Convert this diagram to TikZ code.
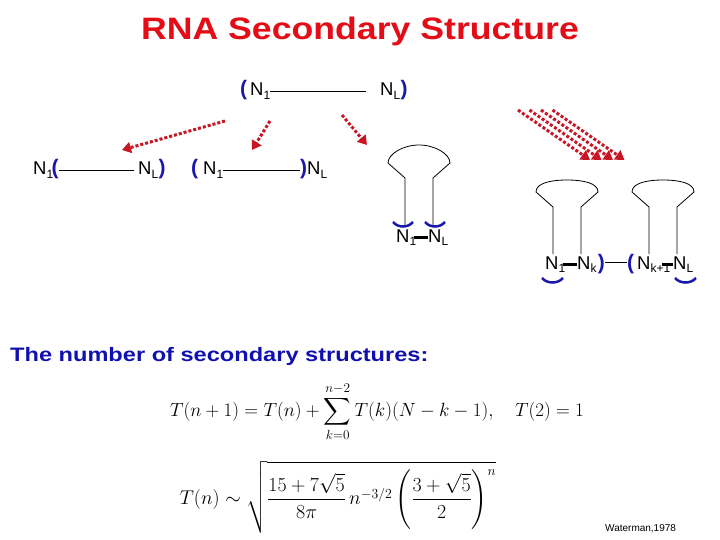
\documentclass[tikz,border=0pt]{standalone}
\usepackage{fontspec}
\usepackage{amsmath}
\newfontfamily\arialfont{Liberation Sans}
\usetikzlibrary{arrows.meta}
\definecolor{titlered}{RGB}{228,12,22}
\definecolor{pblue}{RGB}{24,24,170}
\definecolor{subblue}{RGB}{16,16,176}
\definecolor{arrred}{RGB}{200,22,36}
\newcommand{\nsub}[1]{\raisebox{-0.35ex}{\fontsize{12}{12}\selectfont #1}}

\begin{document}
\begin{tikzpicture}[
    x=1pt, y=-1pt,
    lbl/.style={font=\arialfont\fontsize{18.5}{18.5}\selectfont, inner sep=0pt, anchor=base west},
    pn/.style={font=\arialfont\bfseries\fontsize{21}{21}\selectfont, text=pblue, inner sep=0pt, anchor=base west},
    bond/.style={draw, line width=0.8pt},
    pbond/.style={draw, line width=3pt},
    rarr/.style={draw=arrred, line width=3pt, dash pattern=on 3pt off 2pt,
                 -{Triangle[length=9pt,width=11pt]}},
    barc/.style={draw=pblue, line width=2.5pt},
    loopline/.style={draw, line width=0.8pt}
  ]
    \useasboundingbox (0,0) rectangle (720,540);

    %% --- Title ---
    \node[anchor=base, text=titlered, inner sep=0pt,
          font=\arialfont\bfseries\fontsize{31}{31}\selectfont]
      (title) at (360,40) {\scalebox{1.15}[1]{RNA Secondary Structure}};

    %% --- Top structure ---
    \node[pn]  (tp1) at (240,96) {(};
    \node[lbl] (t1)  at (250,96) {N\nsub{1}};
    \node[lbl] (tL)  at (380,96) {N\nsub{L}};
    \node[pn]  (tp2) at (tL.base east) {)};
    \draw[bond, shorten >=14pt] ([yshift=2pt]t1.mid east) -- ([yshift=2pt]tL.mid west);

    %% --- Arrows ---
    \coordinate (s1) at (225,121); \coordinate (e1) at (122,150);
    \coordinate (s2) at (270,121); \coordinate (e2) at (252,150);
    \coordinate (s3) at (342,115); \coordinate (e3) at (367,145);
    \draw[rarr] (s1) -- (e1);
    \draw[rarr] (s2) -- (e2);
    \draw[rarr] (s3) -- (e3);
    \foreach \i in {0,...,3} {
      \coordinate (m\i) at (518+11.5*\i,110);
      \coordinate (n\i) at (590+11.5*\i,160);
      \draw[rarr] (m\i) -- (n\i);
    }

    %% --- Second row, left ---
    \node[lbl] (a1)  at (33,175)  {N\nsub{1}};
    \node[pn]  (ap1) at ([xshift=-2pt]a1.base east) {(};
    \node[lbl] (aL)  at (138,175) {N\nsub{L}};
    \node[pn]  (ap2) at (aL.base east) {)};
    \draw[bond, shorten >=4pt] ([yshift=2pt]ap1.mid east) -- ([yshift=2pt]aL.mid west);

    %% --- Second row, middle ---
    \node[pn]  (bp1) at (191,175) {(};
    \node[lbl] (b1)  at (203,175) {N\nsub{1}};
    \node[pn]  (bp2) at (300,175) {)};
    \node[lbl] (bL)  at (307,175) {N\nsub{L}};
    \draw[bond] ([yshift=2pt]b1.mid east) -- ([yshift=2pt]bp2.mid west);

    %% --- Hairpins ---
    \foreach \X/\t/\w/\j/\b in {405/145/163/178/225, 553/180/192/207/254, 649/180/192/207/254} {
      \draw[loopline] (\X,\b) -- (\X,\j) -- (\X-17,\w)
        .. controls (\X-17,\w-9) and (\X-2,\t) .. (\X+14,\t)
        .. controls (\X+30,\t) and (\X+45,\w-9) .. (\X+45,\w)
        -- (\X+28,\j) -- (\X+28,\b);
    }

    %% --- Hairpin 1 ---
    \node[lbl] (c1) at (396,242) {N\nsub{1}};
    \node[lbl] (cL) at (428,242) {N\nsub{L}};
    \draw[pbond, shorten <=-2pt] ([yshift=2pt]c1.mid east) -- ([yshift=2pt]cL.mid west);
    \draw[barc] (393,222) .. controls (398,228) and (408,228) .. (413,222);
    \draw[barc] (425,222) .. controls (430,228) and (440,228) .. (445,222);

    %% --- Hairpins 2 and 3 ---
    \node[lbl] (d1)  at (545,269) {N\nsub{1}};
    \node[lbl] (dk)  at (577,269) {N\nsub{k}};
    \node[pn]  (dp1) at ([xshift=1pt]dk.base east) {)};
    \node[pn]  (ep1) at (627,269) {(};
    \node[lbl] (ek)  at (637,269) {N\nsub{k+1}};
    \node[lbl] (eL)  at (673,269) {N\nsub{L}};
    \draw[pbond, shorten <=-2pt] ([yshift=2pt]d1.mid east) -- ([yshift=2pt]dk.mid west);
    \draw[pbond, shorten <=-8pt] ([yshift=2pt]ek.mid east) -- ([yshift=2pt]eL.mid west);
    \draw[bond] ([yshift=4pt]dp1.mid east) -- ([yshift=4pt]ep1.mid west);
    \draw[barc] (542,278) .. controls (547,284) and (558,284) .. (563,278);
    \draw[barc] (675,278) .. controls (680,284) and (691,284) .. (696,278);

    %% --- Counting ---
    \node[anchor=base west, text=subblue, inner sep=0pt,
          font=\arialfont\bfseries\fontsize{19.5}{19.5}\selectfont]
      (sub) at (10,361) {\scalebox{1.21}[1]{The number of secondary structures:}};

    \node[inner sep=0pt, font=\fontsize{20}{24}\selectfont] (f1) at (377,412)
      {\scalebox{0.92}{$\displaystyle T(n+1)=T(n)+\sum_{k=0}^{n-2}T(k)(N-k-1),\quad T(2)=1$}};
    \node[inner sep=0pt, font=\fontsize{20}{24}\selectfont] (f2) at (338,497)
      {\scalebox{0.96}{$\displaystyle T(n)\sim\sqrt{\frac{15+7\sqrt{5}}{8\pi}\,n^{-3/2}\left(\frac{3+\sqrt{5}}{2}\right)^{n}}$}};

    \node[anchor=base west, inner sep=0pt,
          font=\arialfont\fontsize{10}{10}\selectfont] (ref) at (605,531) {Waterman,1978};
  \end{tikzpicture}
\end{document}
